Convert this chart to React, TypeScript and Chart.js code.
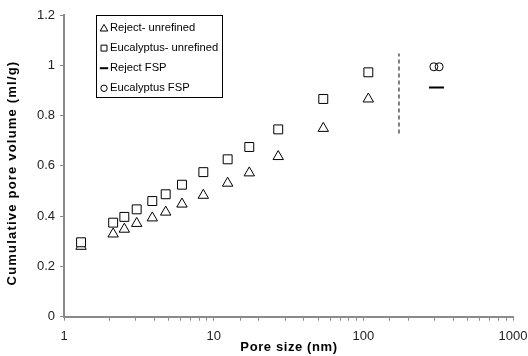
import React, { useEffect, useRef } from 'react';
import { Chart, registerables } from 'chart.js';

Chart.register(...registerables);

// ---- data ----
const poreSize = [1.3, 2.13, 2.53, 3.06, 3.89, 4.78, 6.14, 8.53, 12.4, 17.3, 27, 54, 108];
const rejectUnrefined = [0.28, 0.329, 0.348, 0.371, 0.393, 0.416, 0.448, 0.483, 0.531, 0.572, 0.637, 0.749, 0.866];
const eucalyptusUnrefined = [0.296, 0.374, 0.397, 0.427, 0.46, 0.487, 0.525, 0.575, 0.626, 0.675, 0.745, 0.866, 0.972];
const rejectFspX = [308];
const rejectFspY = [0.912];
const eucalyptusFspX = [296, 321];
const eucalyptusFspY = [0.994, 0.994];
const dividerX = [173, 173];
const dividerY = [0.729, 1.047];
const xTickLabels = [1, 10, 100, 1000];
const seriesLabels = ['Reject- unrefined', 'Eucalyptus- unrefined', 'Reject FSP', 'Eucalyptus FSP'];
const xTitle = 'Pore size (nm)';
const yTitle = 'Cumulative pore volume (ml/g)';

const FONT = '"Liberation Sans", Arial, sans-serif';

const pts = (xs: number[], ys: number[]) => xs.map((x, i) => ({ x, y: ys[i] }));

function drawMarker(ctx: CanvasRenderingContext2D, style: string, x: number, y: number, r: number) {
  ctx.beginPath();
  if (style === 'triangle') {
    const h = r * 1.5;
    const w = r * Math.sqrt(3);
    ctx.moveTo(x, y - r);
    ctx.lineTo(x + w / 2, y - r + h);
    ctx.lineTo(x - w / 2, y - r + h);
    ctx.closePath();
    ctx.fillStyle = '#fff';
    ctx.fill();
    ctx.stroke();
  } else if (style === 'rect') {
    const s = r * Math.SQRT1_2;
    ctx.rect(x - s, y - s, 2 * s, 2 * s);
    ctx.fillStyle = '#fff';
    ctx.fill();
    ctx.stroke();
  } else if (style === 'line') {
    ctx.moveTo(x - r, y);
    ctx.lineTo(x + r, y);
    ctx.stroke();
  } else {
    ctx.arc(x, y, r, 0, Math.PI * 2);
    ctx.fillStyle = '#fff';
    ctx.fill();
    ctx.stroke();
  }
}

const overlayPlugin = {
  id: 'overlay',
  afterDraw(chart: any) {
    const ctx: CanvasRenderingContext2D = chart.ctx;
    ctx.save();
    // legend box
    const bx = 96.5, by = 15.5, bw = 126, bh = 82;
    ctx.fillStyle = '#fff';
    ctx.fillRect(bx, by, bw, bh);
    ctx.strokeStyle = '#000';
    ctx.lineWidth = 1;
    ctx.strokeRect(bx, by, bw, bh);
    const styles = ['triangle', 'rect', 'line', 'circle'];
    const radii = [4.4, 4.2, 4.2, 3.2];
    const widths = [1, 1, 2, 1];
    seriesLabels.forEach((lab, i) => {
      const cy = 28 + i * 20.1;
      ctx.strokeStyle = '#000';
      ctx.lineWidth = widths[i];
      drawMarker(ctx, styles[i], 104, cy + (i === 0 ? 0.8 : 0), radii[i]);
      ctx.fillStyle = '#000';
      ctx.font = `11.2px ${FONT}`;
      ctx.textAlign = 'left';
      ctx.textBaseline = 'middle';
      ctx.fillText(lab, 110, cy);
    });
    // axis titles
    ctx.fillStyle = '#000';
    ctx.font = `bold 13px ${FONT}`;
    (ctx as any).letterSpacing = '0.6px';
    ctx.textAlign = 'center';
    ctx.textBaseline = 'middle';
    ctx.fillText(xTitle, 289, 347);
    ctx.translate(12.5, 173);
    ctx.rotate(-Math.PI / 2);
    (ctx as any).letterSpacing = '1.2px';
    ctx.fillText(yTitle, 0, 0);
    ctx.restore();
  },
};

export default function App() {
  const ref = useRef<HTMLCanvasElement | null>(null);
  useEffect(() => {
    if (!ref.current) return;
    const axisGray = '#8a8a8a';
    const chart = new Chart(ref.current, {
      type: 'scatter',
      data: {
        datasets: [
          {
            label: seriesLabels[0],
            data: pts(poreSize, rejectUnrefined),
            pointStyle: 'triangle',
            pointRadius: 6,
            pointBorderColor: '#000',
            pointBackgroundColor: '#fff',
            pointBorderWidth: 1,
            order: 2,
          },
          {
            label: seriesLabels[1],
            data: pts(poreSize, eucalyptusUnrefined),
            pointStyle: 'rect',
            pointRadius: 6.3,
            pointBorderColor: '#000',
            pointBackgroundColor: '#fff',
            pointBorderWidth: 1,
            order: 1,
          },
          {
            label: seriesLabels[2],
            data: pts(rejectFspX, rejectFspY),
            pointStyle: 'line',
            pointRadius: 7.5,
            pointBorderColor: '#000',
            pointBorderWidth: 2,
            order: 3,
          },
          {
            label: seriesLabels[3],
            data: pts(eucalyptusFspX, eucalyptusFspY),
            pointStyle: 'circle',
            pointRadius: 4,
            pointBorderColor: '#000',
            pointBackgroundColor: 'rgba(255,255,255,0)',
            pointBorderWidth: 1,
            order: 4,
          },
          {
            label: 'divider',
            data: pts(dividerX, dividerY),
            showLine: true,
            pointRadius: 0,
            borderColor: '#555',
            borderWidth: 1.5,
            borderDash: [4, 3],
            order: 5,
          } as any,
        ],
      },
      options: {
        animation: false,
        responsive: false,
        layout: { padding: { left: 0, top: 15, right: 15, bottom: 0 } },
        plugins: { legend: { display: false }, tooltip: { enabled: false } },
        scales: {
          x: {
            type: 'logarithmic',
            min: 1,
            max: 1000,
            afterFit: (s: any) => { s.height = 39.3; s.paddingLeft = 0; s.paddingRight = 0; },
            border: { display: true, color: axisGray, width: 2 },
            grid: { display: true, drawOnChartArea: false, drawTicks: true, tickLength: 4, color: axisGray, lineWidth: 1 },
            ticks: {
              autoSkip: false,
              maxRotation: 0,
              padding: 8,
              color: '#222',
              font: { family: FONT, size: 13 },
              callback: (v: any) => (xTickLabels.includes(Number(v)) ? String(v) : ''),
            },
          },
          y: {
            type: 'linear',
            min: 0,
            max: 1.2,
            afterFit: (s: any) => { s.width = 64; s.paddingTop = 0; s.paddingBottom = 0; },
            border: { display: true, color: axisGray, width: 2 },
            grid: { display: true, drawOnChartArea: false, drawTicks: true, tickLength: 4, color: axisGray, lineWidth: 1 },
            ticks: {
              stepSize: 0.2,
              padding: 5,
              color: '#222',
              font: { family: FONT, size: 13 },
              callback: (v: any) => String(Math.round(Number(v) * 10) / 10),
            },
          },
        },
      },
      plugins: [overlayPlugin],
    } as any);
    return () => chart.destroy();
  }, []);
  return (
    <div style={{ position: 'fixed', left: 0, top: 0, width: 528, height: 356, background: '#fff' }}>
      <canvas ref={ref} width={528} height={356} style={{ display: 'block' }} />
    </div>
  );
}
